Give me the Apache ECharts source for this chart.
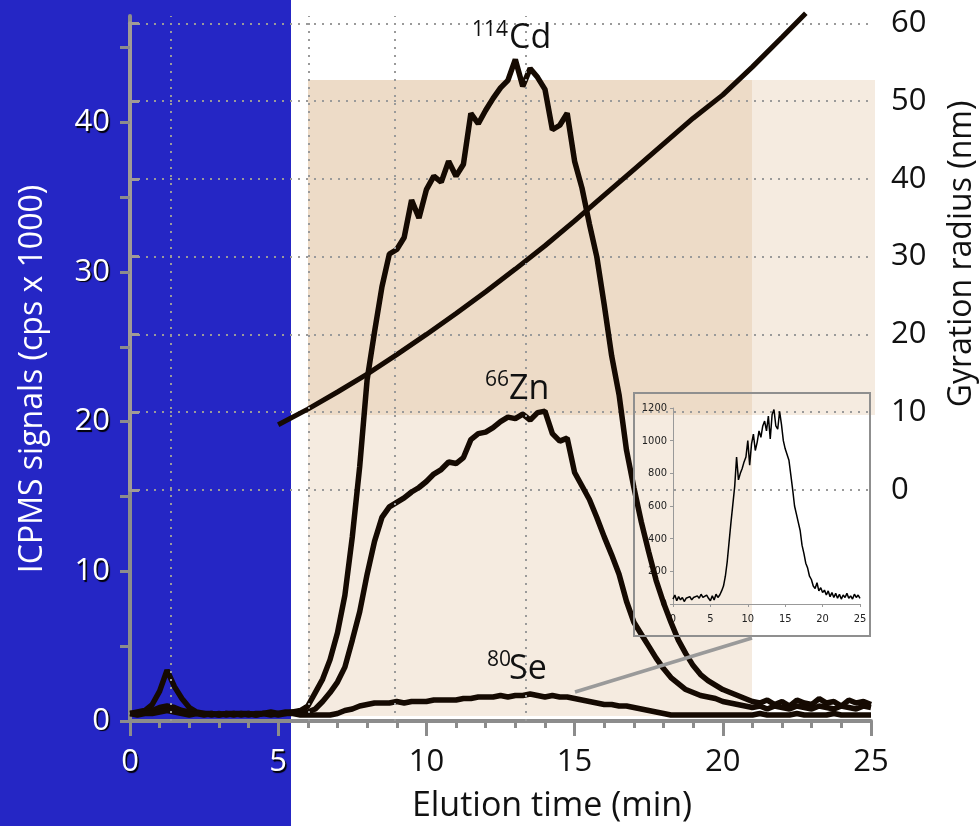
<!DOCTYPE html>
<html>
<head>
<meta charset="utf-8">
<script src="https://cdn.jsdelivr.net/npm/echarts@6/dist/echarts.min.js"></script>
<style>html,body{margin:0;padding:0;background:#fff}#c{width:980px;height:826px}</style>
</head>
<body>
<div id="c"></div>
<script>
// ---- data ----
const timeMin = [0,0.25,0.5,0.75,1,1.25,1.5,1.75,2,2.25,2.5,2.75,3,3.25,3.5,3.75,4,4.25,4.5,4.75,5,5.25,5.5,5.75,6,6.25,6.5,6.75,7,7.25,7.5,7.75,8,8.25,8.5,8.75,9,9.25,9.5,9.75,10,10.25,10.5,10.75,11,11.25,11.5,11.75,12,12.25,12.5,12.75,13,13.25,13.5,13.75,14,14.25,14.5,14.75,15,15.25,15.5,15.75,16,16.25,16.5,16.75,17,17.25,17.5,17.75,18,18.25,18.5,18.75,19,19.25,19.5,19.75,20,20.25,20.5,20.75,21,21.25,21.5,21.75,22,22.25,22.5,22.75,23,23.25,23.5,23.75,24,24.25,24.5,24.75,25];
const cd114 = [0.5,0.6,0.7,1.1, 2.0,3.4,2.3,1.5, 0.9,0.6,0.5,0.5, 0.4,0.5,0.4,0.5, 0.5,0.4,0.5,0.6, 0.5,0.6,0.6,0.7,
  1.0,1.9,2.8,4.1, 5.9,8.4,12.3,17.0, 22.8,26.0,29.0,31.2, 31.5,32.3,34.8,33.6, 35.5,36.4,36.0,37.4, 36.4,37.2,40.6,39.9,
  40.8,41.6,42.3,42.8, 44.2,42.4,43.6,43.0, 42.2,39.5,39.8,40.6, 37.4,35.6,33.2,31.0, 27.8,24.4,21.8,18.1, 15.6,13.3,11.3,9.4,
  7.9,6.6,5.4,4.5, 3.7,3.1,2.7,2.4, 2.1,1.9,1.7,1.5, 1.3,1.2,1.4,1.1, 1.3,1.0,1.4,1.2, 1.1,1.5,1.2,1.3, 1.0,1.4,1.2,1.3, 1.1];
const zn66 = [0.5,0.5,0.6,0.7, 0.9,1.0,0.9,0.7, 0.6,0.5,0.5,0.4, 0.5,0.4,0.5,0.5, 0.4,0.5,0.5,0.4, 0.5,0.5,0.6,0.5,
  0.6,0.8,1.3,1.9, 2.6,3.6,5.4,7.3, 9.8,12.0,13.6,14.3, 14.6,14.9,15.3,15.6, 16.0,16.5,16.8,17.3, 17.2,17.6,18.8,19.2,
  19.3,19.6,20.0,20.3, 20.2,20.5,20.1,20.6, 20.7,19.2,18.7,18.9, 16.6,15.7,14.8,13.6, 12.3,11.1,9.8,8.0, 6.6,5.8,5.0,4.2,
  3.5,2.9,2.5,2.1, 1.9,1.7,1.6,1.5, 1.3,1.2,1.1,1.0, 0.9,1.0,0.8,1.0, 0.9,0.8,1.0,0.9, 0.8,1.0,0.9,0.8, 1.0,0.9,0.8,1.0, 0.9];
const se80 = [0.5,0.4,0.5,0.5, 0.6,0.7,0.6,0.5, 0.4,0.5,0.4,0.5, 0.4,0.5,0.5,0.4, 0.5,0.4,0.5,0.5, 0.4,0.5,0.5,0.4,
  0.4,0.4,0.4,0.4, 0.5,0.7,0.8,1.0, 1.1,1.2,1.2,1.2, 1.3,1.2,1.3,1.3, 1.3,1.4,1.4,1.4, 1.4,1.5,1.5,1.6,
  1.6,1.6,1.7,1.6, 1.7,1.7,1.8,1.7, 1.6,1.7,1.6,1.6, 1.5,1.4,1.3,1.2, 1.1,1.1,1.0,1.0, 0.9,0.8,0.7,0.6,
  0.5,0.4,0.4,0.4, 0.4,0.4,0.4,0.4, 0.4,0.4,0.4,0.4, 0.4,0.5,0.4,0.4, 0.4,0.4,0.5,0.4, 0.4,0.4,0.4,0.5, 0.4,0.4,0.4,0.4, 0.4];
const radiusTime = [5,6,7,8,9,10,11,12,13,14,15,16,17,18,19,20,21,22,22.8];
const radiusNm = [8.4,10.4,12.6,14.9,17.4,20.0,22.7,25.5,28.4,31.4,34.6,37.9,41.2,44.5,47.8,50.8,54.4,58.2,61.3];
const insetSignal = [30,55,20,45, 25,40,15,35, 30,45,25,40, 30,50,35,60, 40,30,55,35, 20,50,25,60,
  40,55,80,110, 170,260,380,500, 610,720,900,760, 800,830,870,900, 1000,850,980,1040, 940,990,1060,1020,
  1090,1120,1060,1150, 1010,1160,1190,1090, 1070,1180,1100,1000, 950,960,880,790, 700,600,550,500, 450,360,310,250,
  220,170,150,110, 95,130,80,100, 70,85,55,80, 45,70,40,65, 35,60,30,55, 40,65,35,50, 30,60,40,55, 35];
const markerTimes = [1.38, 6.04, 8.94, 13.36];
const leftLabels = [0,10,20,30,40];
const leftTicks = [0,5,10,15,20,25,30,35,40,45];

const pairs = (xs, ys) => xs.map((x, i) => [x, ys[i]]);

const FONT = '"Open Sans", "Noto Sans", sans-serif';
const NARROW = '"Liberation Sans Narrow", "DejaVu Sans Condensed", sans-serif';
const AX = '#8c8c8c';
const INK = '#150a02';
const shadowW = {color:'#fff', textShadowColor:'#000', textShadowOffsetX:1.5, textShadowOffsetY:1.5, textShadowBlur:1, fontSize:31, fontFamily:FONT};
const plainB = {color:'#111', fontSize:31, fontFamily:FONT};

const chart = echarts.init(document.getElementById('c'), null, {renderer:'canvas'});
const lineS = (name, data) => ({
  name, type:'line', xAxisIndex:0, yAxisIndex:0, data, showSymbol:false, symbol:'none',
  lineStyle:{color:INK, width:5.5}, z:3, animation:false
});

const seriesCd = lineS('114Cd', pairs(timeMin, cd114));
seriesCd.markLine = {
  silent:true, symbol:['none','none'], label:{show:false}, animation:false,
  lineStyle:{color:'#9a9a9a', width:2, type:[2,6]},
  data: markerTimes.map(t => ({xAxis:t}))
};

const option = {
  animation:false,
  backgroundColor:'#fff',
  grid:[
    {left:130, right:109, top:16, bottom:105},
    {left:130, right:109, top:23.3, bottom:336},
    {left:673, width:187, top:408, height:196}
  ],
  xAxis:[
    {gridIndex:0, type:'value', min:0, max:25, interval:5,
     axisLine:{lineStyle:{color:AX, width:4}},
     axisTick:{length:15, lineStyle:{color:AX, width:3}},
     minorTick:{show:true, splitNumber:5, length:7, lineStyle:{color:AX, width:3}},
     splitLine:{show:false},
     axisLabel:{margin:26, formatter:v => (v < 6 ? '{w|' + v + '}' : '{b|' + v + '}'), rich:{w:shadowW, b:plainB}}},
    {gridIndex:1, type:'value', min:0, max:25, show:false},
    {gridIndex:2, type:'value', min:0, max:25, interval:5,
     axisLine:{lineStyle:{color:'#999', width:1}},
     axisTick:{length:3, lineStyle:{color:'#999'}},
     splitLine:{show:false},
     axisLabel:{margin:10, fontSize:11, fontFamily:NARROW, color:'#222', formatter:v => String(v)}}
  ],
  yAxis:[
    {gridIndex:0, type:'value', min:0, max:47.1, position:'left',
     axisLine:{show:true, lineStyle:{color:AX, width:4}},
     axisTick:{show:true, length:10, customValues:leftTicks, lineStyle:{color:AX, width:3}},
     splitLine:{show:false},
     axisLabel:{margin:20, customValues:leftLabels, color:'#fff', fontSize:31, fontFamily:FONT,
       textShadowColor:'#000', textShadowOffsetX:1.5, textShadowOffsetY:1.5, textShadowBlur:1}},
    {gridIndex:1, type:'value', min:0, max:60, interval:10, position:'right',
     axisLine:{show:true, lineStyle:{color:'#a09b96', width:4}},
     axisTick:{show:true, length:9, lineStyle:{color:'#a09b96', width:3}},
     splitLine:{show:true, lineStyle:{color:'#9a9a9a', width:2, type:[2,6]}},
     axisLabel:{margin:20, color:'#111', fontSize:31, fontFamily:FONT}},
    {gridIndex:2, type:'value', min:0, max:1200, interval:200,
     axisLine:{show:true, lineStyle:{color:'#999', width:1}},
     axisTick:{show:true, length:3, lineStyle:{color:'#999'}},
     splitLine:{show:false},
     axisLabel:{margin:6, fontSize:11, fontFamily:NARROW, color:'#222', formatter:v => String(v)}}
  ],
  series:[
    seriesCd,
    lineS('66Zn', pairs(timeMin, zn66)),
    lineS('80Se', pairs(timeMin, se80)),
    {name:'Gyration radius', type:'line', xAxisIndex:1, yAxisIndex:1, data:pairs(radiusTime, radiusNm),
     showSymbol:false, symbol:'none', clip:false, lineStyle:{color:INK, width:5}, z:3},
    {name:'inset', type:'line', xAxisIndex:2, yAxisIndex:2, data:pairs(timeMin, insetSignal),
     showSymbol:false, symbol:'none', lineStyle:{color:'#000', width:1.5}, z:4}
  ],
  graphic:{elements:[
    {type:'rect', z:-10, silent:true, shape:{x:0, y:0, width:291, height:826}, style:{fill:'#2526C5'}},
    {type:'rect', z:-9, silent:true, shape:{x:308, y:80, width:567, height:335}, style:{fill:'rgba(205,155,100,0.2)'}},
    {type:'rect', z:-9, silent:true, shape:{x:308, y:80, width:444, height:636}, style:{fill:'rgba(205,155,100,0.2)'}},
    {type:'rect', z:5, silent:true, shape:{x:634, y:393, width:236, height:243}, style:{fill:'none', stroke:'#8f8f8f', lineWidth:2}},
    {type:'line', z:5, silent:true, shape:{x1:575, y1:692, x2:752, y2:638}, style:{stroke:'#9a9a9a', lineWidth:3.5}},
    {type:'text', z:20, x:33, y:379, rotation:Math.PI/2, style:{text:'ICPMS signals (cps x 1000)', fill:'#fff', font:'32px ' + FONT, textAlign:'center', textVerticalAlign:'middle'}},
    {type:'text', z:20, x:962, y:254, rotation:Math.PI/2, style:{text:'Gyration radius (nm)', fill:'#111', font:'32px ' + FONT, textAlign:'center', textVerticalAlign:'middle'}},
    {type:'text', z:20, x:552, y:806, style:{text:'Elution time (min)', fill:'#111', font:'34px ' + FONT, textAlign:'center', textVerticalAlign:'middle'}},
    {type:'text', z:20, x:472, y:30, style:{text:'114', fill:'#111', font:'21px ' + FONT, textAlign:'left', textVerticalAlign:'middle'}},
    {type:'text', z:20, x:509, y:38, style:{text:'Cd', fill:'#111', font:'34px ' + FONT, textAlign:'left', textVerticalAlign:'middle'}},
    {type:'text', z:20, x:485, y:380, style:{text:'66', fill:'#111', font:'21px ' + FONT, textAlign:'left', textVerticalAlign:'middle'}},
    {type:'text', z:20, x:509, y:389, style:{text:'Zn', fill:'#111', font:'34px ' + FONT, textAlign:'left', textVerticalAlign:'middle'}},
    {type:'text', z:20, x:487, y:660, style:{text:'80', fill:'#111', font:'21px ' + FONT, textAlign:'left', textVerticalAlign:'middle'}},
    {type:'text', z:20, x:509, y:669, style:{text:'Se', fill:'#111', font:'34px ' + FONT, textAlign:'left', textVerticalAlign:'middle'}}
  ]}
};
chart.setOption(option);
</script>
</body>
</html>
